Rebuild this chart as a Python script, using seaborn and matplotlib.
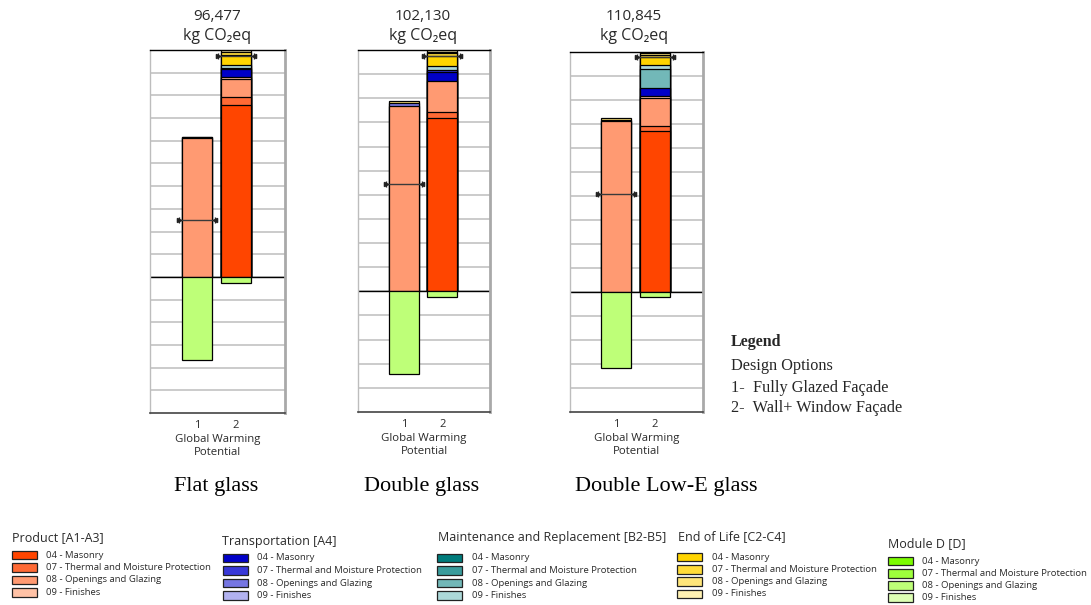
import matplotlib
matplotlib.use("Agg")
import matplotlib.pyplot as plt
from matplotlib.patches import Rectangle
import pandas as pd
import seaborn as sns

# ---------------------------------------------------------------- data
# Design options on every chart
options = ["1", "2"]

# Stacking order of life-cycle stage / division layers (bottom to top)
layers = ["P04", "P07", "P08", "P09", "T04", "T07", "T08",
          "M08", "M09", "E04", "E07", "E08", "E09"]

# kg CO2eq per layer, option 1 (fully glazed) and option 2 (wall + window)
flat_opt1 = {"P08": 59045, "T08": 300, "E08": 250}
flat_opt2 = {"P04": 73000, "P07": 3400, "P08": 7700, "P09": 800, "T04": 3400,
             "T07": 500, "M09": 1300, "E04": 4200, "E07": 1500, "E09": 677}
flat_module_d = [-35200, -2400]

double_opt1 = {"P08": 78420, "T08": 1100, "E08": 900}
double_opt2 = {"P04": 73340, "P07": 2400, "P08": 13400, "T04": 3690, "T07": 700,
               "M09": 1820, "E04": 4340, "E07": 1000, "E08": 800, "E09": 640}
double_module_d = [-34900, -2400]

lowe_opt1 = {"P08": 78880, "T08": 700, "E08": 800}
lowe_opt2 = {"P04": 74500, "P07": 2320, "P08": 12830, "P09": 700, "T04": 3700,
             "M08": 8800, "M09": 1800, "E04": 4100, "E07": 800, "E08": 700,
             "E09": 595}
lowe_module_d = [-35060, -2160]

panel_titles = ["Flat glass", "Double glass", "Double Low-E glass"]

legend_groups = ["Product [A1-A3]", "Transportation [A4]",
                 "Maintenance and Replacement [B2-B5]", "End of Life [C2-C4]",
                 "Module D [D]"]
divisions = ["04 - Masonry", "07 - Thermal and Moisture Protection",
             "08 - Openings and Glazing", "09 - Finishes"]
option_notes = ["1-  Fully Glazed Façade", "2-  Wall+ Window Façade"]

# ---------------------------------------------------------------- colours
group_colors = [
    ["#FF4500", "#FF6A35", "#FF9A72", "#FFC2A6"],   # Product
    ["#0000C8", "#3838D8", "#7676E2", "#B2B2F0"],   # Transportation
    ["#007C7C", "#3A9C9C", "#72B8B8", "#ACD8D8"],   # Maintenance
    ["#FFD400", "#FFDC3A", "#FFE67A", "#FFF1B2"],   # End of Life
    ["#7CFC00", "#9EFF3C", "#BEFF78", "#DDFFB4"],   # Module D
]
prefixes = ["P", "T", "M", "E", "D"]
codes = ["04", "07", "08", "09"]
colors = {p + c: group_colors[i][j]
          for i, p in enumerate(prefixes) for j, c in enumerate(codes)}

# ---------------------------------------------------------------- style
sns.set_style("white")
plt.rcParams["font.family"] = ["Open Sans", "DejaVu Sans"]
SERIF = ["Liberation Serif", "DejaVu Serif"]
INK = "#2a2a2a"

W, H = 1091, 605
fig = plt.figure(figsize=(W / 100, H / 100), dpi=100)

# full-figure layer in pixel coordinates for free text and the key
overlay = fig.add_axes([0, 0, 1, 1])
overlay.set_xlim(0, W)
overlay.set_ylim(H, 0)
overlay.axis("off")

BAR_W = 0.78


def draw_panel(rect, opt1, opt2, module_d, n_below):
    left, top, right, bottom = rect
    ax = fig.add_axes([left / W, 1 - bottom / H, (right - left) / W,
                       (bottom - top) / H])
    ax.set_facecolor("none")

    total = sum(opt2.values())
    step = total / 10
    for k in range(-n_below + 1, 10):
        ax.axhline(k * step, color="#c2c2c2", lw=1.2, zorder=0.5)

    # cumulative tops of each layer, drawn largest first so they stack
    rows = []
    for opt, vals in zip(options, [opt1, opt2]):
        cum = 0
        for layer in layers:
            v = vals.get(layer, 0)
            if v:
                cum += v
                rows.append({"option": opt, "layer": layer, "top": cum})
    df = pd.DataFrame(rows)
    for layer in reversed(layers):
        sub = df[df["layer"] == layer]
        if sub.empty:
            continue
        sns.barplot(data=sub, x="option", y="top", order=options,
                    color=colors[layer], saturation=1, width=BAR_W,
                    edgecolor="black", linewidth=0.9, errorbar=None,
                    ax=ax, zorder=2)

    dd = pd.DataFrame({"option": options, "value": module_d})
    sns.barplot(data=dd, x="option", y="value", order=options,
                color=colors["D08"], saturation=1, width=BAR_W,
                edgecolor="black", linewidth=0.9, errorbar=None,
                ax=ax, zorder=2)

    ax.axhline(0, color="black", lw=1.0, zorder=1.5)

    # net result marker for each option
    for i, (vals, d) in enumerate(zip([opt1, opt2], module_d)):
        net = sum(vals.values()) + d
        half = BAR_W / 2 + 0.08
        ax.plot([i - half, i + half], [net, net], color="#3a3a3a", lw=1.0,
                zorder=4)
        ax.plot([i - half], [net], marker=">", ms=3, color="#222222", zorder=4)
        ax.plot([i + half], [net], marker="<", ms=3, color="#222222", zorder=4)
        ax.plot([i - half, i + half], [net, net], ls="none", marker="|",
                ms=5, mew=1, color="#222222", zorder=4)

    ax.set_xlim(-1.2, 2.25)
    ax.set_ylim(-n_below * step, total)
    ax.set_yticks([])
    ax.set_ylabel("")
    ax.set_xticks([0, 1])
    ax.set_xticklabels(options)
    ax.tick_params(axis="x", length=0, labelsize=8, pad=5, colors=INK)
    ax.set_xlabel("Global Warming\nPotential", fontsize=8.2, color=INK,
                  labelpad=2, linespacing=1.25)

    ax.spines["top"].set(color="black", lw=1.0)
    ax.spines["bottom"].set(color="#444444", lw=1.2)
    ax.spines["left"].set(color="#bdbdbd", lw=1.0)
    ax.spines["right"].set(color="#a9a9a9", lw=2.0)
    return total


panel_rects = [(150, 50, 285, 413), (358, 50, 490, 412), (570, 52, 703, 412)]
panel_data = [(flat_opt1, flat_opt2, flat_module_d, 6),
              (double_opt1, double_opt2, double_module_d, 5),
              (lowe_opt1, lowe_opt2, lowe_module_d, 5)]
header_x = [217, 423, 634]
title_x = [216, 422, 666]

for rect, data, hx, tx, title in zip(panel_rects, panel_data, header_x,
                                     title_x, panel_titles):
    total = draw_panel(rect, *data)
    overlay.text(hx, 16, f"{total:,}", ha="center", va="center",
                 fontsize=11, color=INK)
    overlay.text(hx, 36, "kg CO₂eq", ha="center", va="center",
                 fontsize=11.5, color=INK)
    overlay.text(tx, 486, title, ha="center", va="center", fontsize=16,
                 family=SERIF, color="black")

# design option notes
overlay.text(731, 342, "Legend", fontsize=11.5, fontweight="bold",
             family=SERIF, va="center")
overlay.text(731, 366, "Design Options", fontsize=11.7, family=SERIF,
             va="center")
for k, note in enumerate(option_notes):
    overlay.text(731, 388 + 20 * k, note, fontsize=11.7, family=SERIF,
                 va="center")

# stage / division key
key_pos = [  # title x, title y, patch x, text x, first row y, row step
    (12, 538, 12, 46, 555, 12.5),
    (222, 541, 223, 257, 558, 12.5),
    (438, 538, 437, 472, 558, 12.5),
    (678, 537, 677, 712, 557, 12.3),
    (888, 544, 888, 922, 561, 12.2),
]
for g, (title, (tx, ty, px, lx, ry, rs)) in enumerate(zip(legend_groups,
                                                          key_pos)):
    overlay.text(tx, ty, title, fontsize=9, va="center", color=INK)
    for j, label in enumerate(divisions):
        y = ry + j * rs
        overlay.add_patch(Rectangle((px, y - 4.3), 25, 8.6,
                                    facecolor=group_colors[g][j],
                                    edgecolor="#222222", lw=0.9))
        overlay.text(lx, y, label, fontsize=6.8, va="center", color=INK)

fig.savefig("out.png", dpi=100)
